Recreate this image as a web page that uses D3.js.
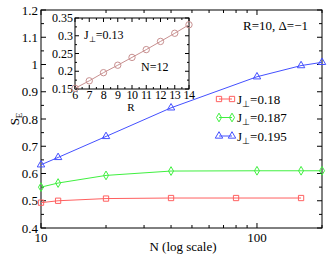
<!DOCTYPE html>
<html>
<head>
<meta charset="utf-8">
<script src="https://cdn.jsdelivr.net/npm/d3@7"></script>
<style>
  body { margin: 0; background: #fff; }
</style>
</head>
<body>
<div id="chart"></div>
<script>
// main panel data
const red018 = [[10, 0.493], [12, 0.5], [20, 0.508], [40, 0.51], [80, 0.51], [160, 0.51]]
const green0187 = [[10, 0.55], [12, 0.565], [20, 0.593], [40, 0.609], [100, 0.61], [160, 0.61], [200, 0.61]]
const blue0195 = [[10, 0.632], [12, 0.659], [20, 0.736], [40, 0.841], [100, 0.955], [160, 0.996], [200, 1.008]]
const yTicksMain = [0.4, 0.5, 0.6, 0.7, 0.8, 0.9, 1, 1.1, 1.2]
const xTicksMain = [10, 100]
const legendLabels = ['0.18', '0.187', '0.195']

// inset data
const insetR = [6, 7, 8, 9, 10, 11, 12, 13, 14]
const insetS = [0.152, 0.173, 0.196, 0.217, 0.239, 0.261, 0.284, 0.307, 0.331]
const insetYTicks = [0.15, 0.2, 0.25, 0.3, 0.35]

const W = 332, H = 257
const svg = d3.select('#chart').append('svg').attr('width', W).attr('height', H)
  .attr('font-family', "'Liberation Serif', 'Times New Roman', serif")

const x = d3.scaleLog().domain([10, 200]).range([41, 322])
const y = d3.scaleLinear().domain([0.4, 1.2]).range([228, 10])

// frame
svg.append('rect').attr('x', 41).attr('y', 10).attr('width', 281).attr('height', 218)
  .attr('fill', 'none').attr('stroke', '#000').attr('stroke-width', 1)

// ticks, all pointing inward
const minorX = d3.range(20, 100, 10).concat([200])
const tickG = svg.append('g').attr('stroke', '#000').attr('stroke-width', 1)
xTicksMain.forEach(v => {
  tickG.append('line').attr('x1', x(v)).attr('x2', x(v)).attr('y1', 228).attr('y2', 223)
  tickG.append('line').attr('x1', x(v)).attr('x2', x(v)).attr('y1', 10).attr('y2', 15)
})
minorX.forEach(v => {
  tickG.append('line').attr('x1', x(v)).attr('x2', x(v)).attr('y1', 228).attr('y2', 225)
  tickG.append('line').attr('x1', x(v)).attr('x2', x(v)).attr('y1', 10).attr('y2', 13)
})
d3.range(0.4, 1.2001, 0.05).forEach((v, i) => {
  const len = i % 2 === 0 ? 5 : 3
  tickG.append('line').attr('x1', 41).attr('x2', 41 + len).attr('y1', y(v)).attr('y2', y(v))
  tickG.append('line').attr('x1', 322).attr('x2', 322 - len).attr('y1', y(v)).attr('y2', y(v))
})

// tick labels
svg.append('g').selectAll('text').data(yTicksMain).enter().append('text')
  .attr('x', 38).attr('y', d => y(d) + 4.5).attr('text-anchor', 'end')
  .attr('font-size', 13).text(d => d3.format('')(d))
svg.append('g').selectAll('text').data(xTicksMain).enter().append('text')
  .attr('x', d => x(d)).attr('y', 242).attr('text-anchor', 'middle')
  .attr('font-size', 13).text(d => d)

// axis titles
svg.append('text').attr('x', 183).attr('y', 251).attr('text-anchor', 'middle')
  .attr('font-size', 13).text('N (log scale)')
const sLab = svg.append('text').attr('transform', 'translate(19,119) rotate(-90)')
  .attr('text-anchor', 'middle').attr('font-size', 13)
sLab.append('tspan').text('S')
sLab.append('tspan').attr('dy', 3).attr('font-size', 9).text('E')

svg.append('text').attr('x', 308).attr('y', 30).attr('text-anchor', 'end')
  .attr('font-size', 13).text('R=10, Δ=−1')

// series
const line = d3.line().x(d => x(d[0])).y(d => y(d[1]))
const series = [
  { data: red018, color: '#ff6060', shape: d3.symbolSquare },
  { data: green0187, color: '#40f040', shape: d3.symbolDiamond },
  { data: blue0195, color: '#4450ff', shape: d3.symbolTriangle }
]
function marker(g, s, cx, cy) {
  const size = s.shape === d3.symbolDiamond ? 22 : s.shape === d3.symbolTriangle ? 24 : 28
  g.append('path').attr('d', d3.symbol().type(s.shape).size(size)())
    .attr('transform', `translate(${cx},${cy})`)
    .attr('fill', 'none').attr('stroke', s.color).attr('stroke-width', 1)
}
series.forEach(s => {
  svg.append('path').datum(s.data).attr('d', line)
    .attr('fill', 'none').attr('stroke', s.color).attr('stroke-width', 1)
  const g = svg.append('g')
  s.data.forEach(d => marker(g, s, x(d[0]), y(d[1])))
})

// legend
series.forEach((s, i) => {
  const ly = 99 + i * 18.5
  svg.append('line').attr('x1', 219).attr('x2', 232).attr('y1', ly).attr('y2', ly)
    .attr('stroke', s.color).attr('stroke-width', 1)
  const g = svg.append('g')
  marker(g, s, 219, ly)
  marker(g, s, 232, ly)
  const t = svg.append('text').attr('x', 237).attr('y', ly + 4.5).attr('font-size', 13)
  t.append('tspan').text('J')
  t.append('tspan').attr('dy', 3).attr('font-size', 9).text('⊥')
  t.append('tspan').attr('dy', -3).text('=' + legendLabels[i])
})

// inset
const ix = d3.scaleLinear().domain([6, 14]).range([75, 189])
const iy = d3.scaleLinear().domain([0.15, 0.35]).range([89, 18])
svg.append('rect').attr('x', 75).attr('y', 18).attr('width', 114).attr('height', 71)
  .attr('fill', '#fff').attr('stroke', '#000').attr('stroke-width', 1)
const iTick = svg.append('g').attr('stroke', '#000').attr('stroke-width', 1)
d3.range(6, 14.01, 0.5).forEach((v, i) => {
  const len = i % 2 === 0 ? 4 : 2
  iTick.append('line').attr('x1', ix(v)).attr('x2', ix(v)).attr('y1', 89).attr('y2', 89 - len)
  iTick.append('line').attr('x1', ix(v)).attr('x2', ix(v)).attr('y1', 18).attr('y2', 18 + len)
})
d3.range(0.15, 0.3501, 0.025).forEach((v, i) => {
  const len = i % 2 === 0 ? 4 : 2
  iTick.append('line').attr('x1', 75).attr('x2', 75 + len).attr('y1', iy(v)).attr('y2', iy(v))
  iTick.append('line').attr('x1', 189).attr('x2', 189 - len).attr('y1', iy(v)).attr('y2', iy(v))
})
svg.append('g').selectAll('text').data(insetYTicks).enter().append('text')
  .attr('x', 73).attr('y', d => iy(d) + 4).attr('text-anchor', 'end')
  .attr('font-size', 12).text(d => d3.format('')(d))
svg.append('g').selectAll('text').data(insetR).enter().append('text')
  .attr('x', d => ix(d)).attr('y', 99).attr('text-anchor', 'middle')
  .attr('font-size', 12).attr('letter-spacing', -0.5).text(d => d)
svg.append('text').attr('x', 131).attr('y', 111).attr('text-anchor', 'middle')
  .attr('font-size', 11).text('R')

const insetPts = insetR.map((r, i) => [r, insetS[i]])
svg.append('path').datum(insetPts)
  .attr('d', d3.line().x(d => ix(d[0])).y(d => iy(d[1])))
  .attr('fill', 'none').attr('stroke', '#c89090').attr('stroke-width', 1)
svg.append('g').selectAll('circle').data(insetPts).enter().append('circle')
  .attr('cx', d => ix(d[0])).attr('cy', d => iy(d[1])).attr('r', 3.2)
  .attr('fill', 'none').attr('stroke', '#c89090').attr('stroke-width', 1)

const jt = svg.append('text').attr('x', 84).attr('y', 39).attr('font-size', 12)
jt.append('tspan').text('J')
jt.append('tspan').attr('dy', 3).attr('font-size', 8).text('⊥')
jt.append('tspan').attr('dy', -3).text('=0.13')
svg.append('text').attr('x', 141).attr('y', 71).attr('font-size', 12).text('N=12')
</script>
</body>
</html>
